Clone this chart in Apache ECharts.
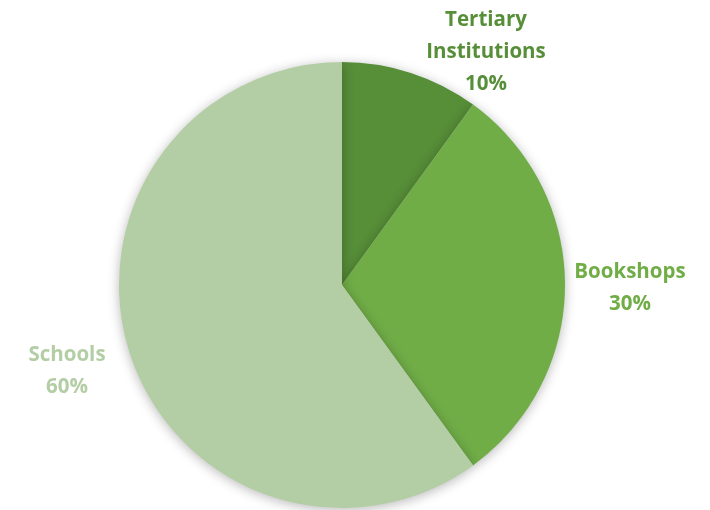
<!DOCTYPE html>
<html>
<head>
<meta charset="utf-8">
<script src="https://cdn.jsdelivr.net/npm/echarts@6/dist/echarts.min.js"></script>
<style>
  html, body { margin: 0; padding: 0; background: #ffffff; }
  #chart { width: 710px; height: 510px; }
</style>
</head>
<body>
<div id="chart"></div>
<script>
// Share of distribution by outlet
var categories = ['Tertiary\nInstitutions', 'Bookshops', 'Schools'];
var shares = [10, 30, 60];
var sliceColors = ['#578e38', '#70ad47', '#b3cea5'];

// Where each label block sits (centre of block), in pixels
var labelAnchors = [
  { x: 486, y: 52 },
  { x: 630, y: 288 },
  { x: 67, y: 371 }
];

var chart = echarts.init(document.getElementById('chart'));

var data = categories.map(function (name, i) {
  return {
    name: name,
    value: shares[i],
    itemStyle: { color: sliceColors[i] },
    label: { color: sliceColors[i] }
  };
});

chart.setOption({
  animation: false,
  series: [{
    type: 'pie',
    center: [342, 285],
    radius: 223,
    startAngle: 90,
    clockwise: true,
    data: data,
    itemStyle: {
      borderWidth: 0,
      shadowBlur: 12,
      shadowColor: 'rgba(0,0,0,0.28)',
      shadowOffsetY: 2
    },
    label: {
      show: true,
      position: 'outside',
      formatter: function (p) { return p.name + '\n' + p.value + '%'; },
      fontFamily: 'Open Sans',
      fontWeight: 'bold',
      fontSize: 20.5,
      lineHeight: 32,
      align: 'center',
      overflow: 'none',
      width: 220
    },
    labelLine: { show: false },
    labelLayout: function (params) {
      var a = labelAnchors[params.dataIndex];
      return { x: a.x, y: a.y, align: 'center', verticalAlign: 'middle' };
    },
    emphasis: { disabled: true }
  }]
});
</script>
</body>
</html>
